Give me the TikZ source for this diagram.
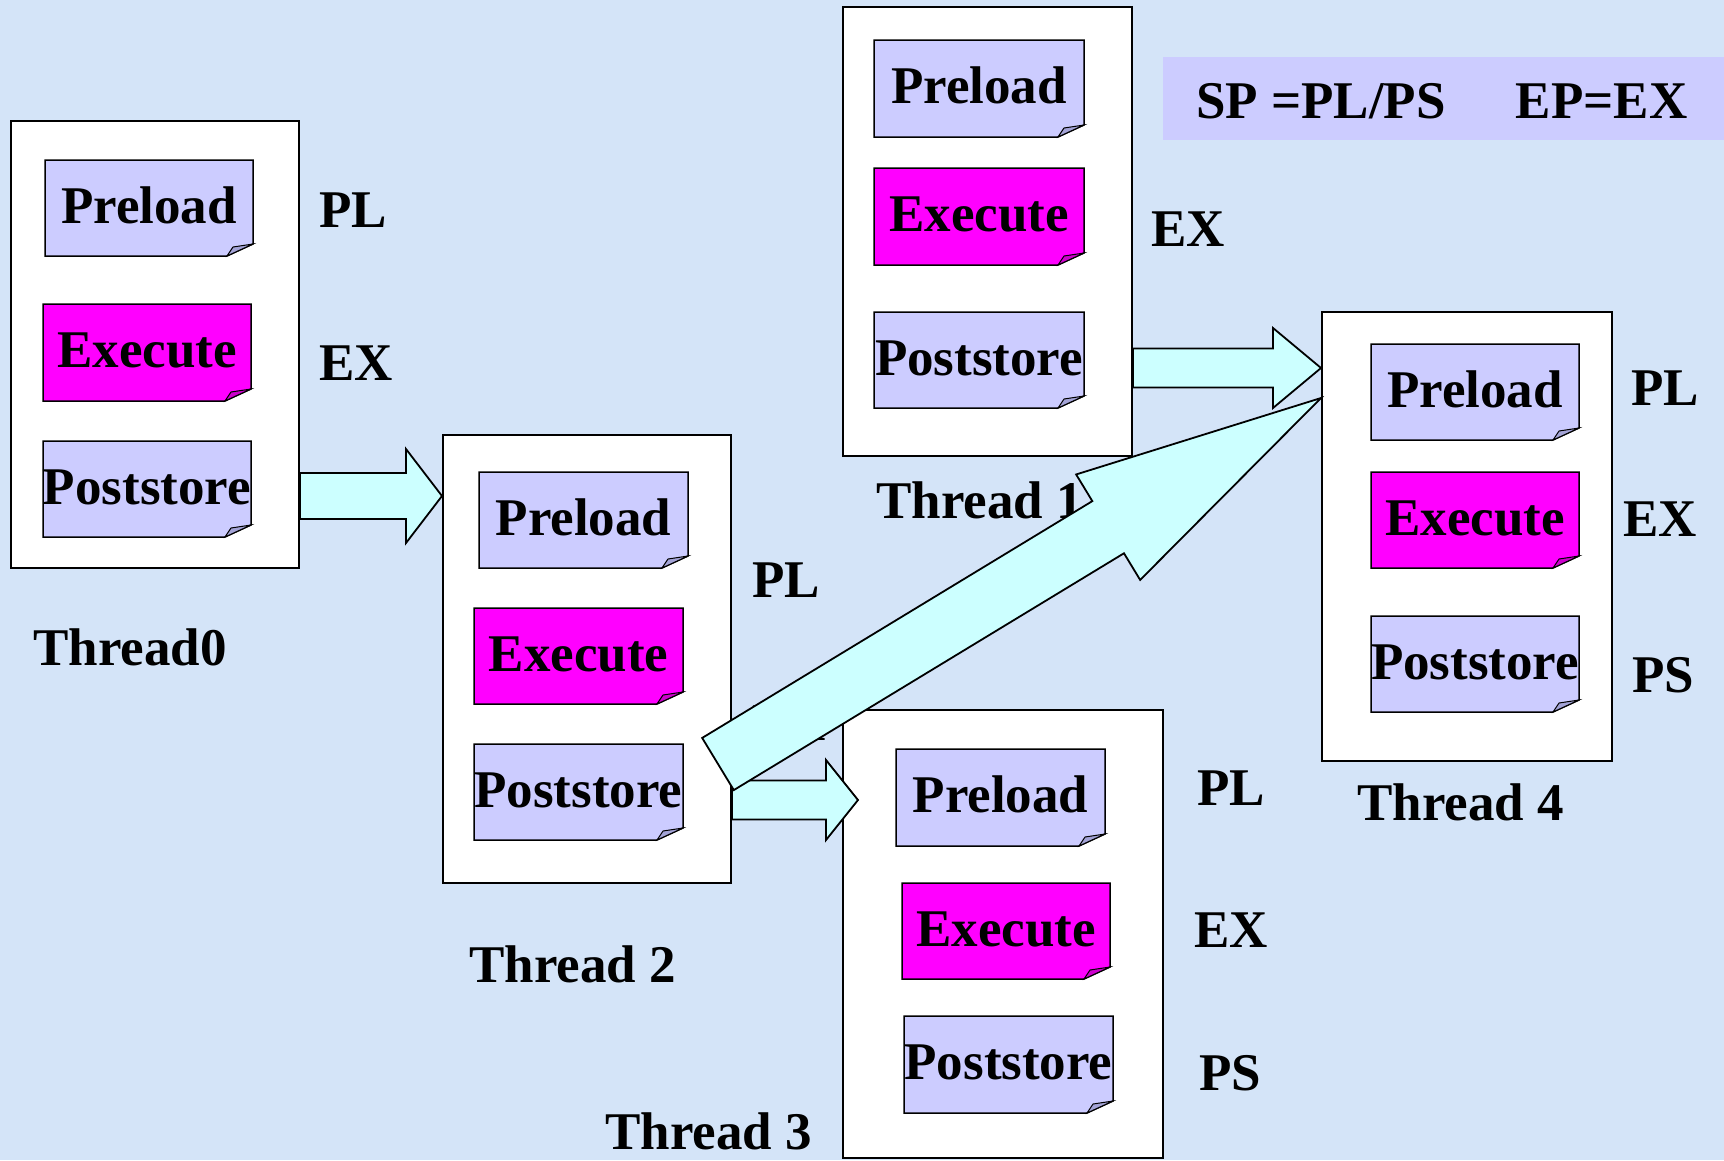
\documentclass[tikz,border=0pt]{standalone}
\usepackage{fontspec}
\setmainfont{Liberation Serif}
\usetikzlibrary{calc}
\definecolor{bgblue}{RGB}{212,228,248}
\definecolor{lav}{RGB}{204,204,255}
\definecolor{lavfold}{RGB}{163,163,214}
\definecolor{mag}{RGB}{255,0,255}
\definecolor{magfold}{RGB}{204,0,204}
\definecolor{arrcyan}{RGB}{204,255,255}
\newcommand\lblfont{\fontsize{53}{60}\selectfont\bfseries}
\tikzset{
  threadbox/.style={draw=black, fill=white, line width=2pt, inner sep=0pt},
  notetext/.style={inner sep=0pt, text height=30pt, text depth=0pt, font=\lblfont},
  lbl/.style={anchor=base west, inner sep=0pt, font=\lblfont},
  blockarr/.style={draw=black, fill=arrcyan, line width=1.8pt, line join=miter},
  legendbox/.style={fill=lav, draw=none, inner sep=0pt}
}
% name, x1, y1, x2, y2
\newcommand\threadbox[5]{%
  \node[threadbox, minimum width={#4-#2}, minimum height={#5-#3}] (#1) at ({(#2+#4)/2},{(#3+#5)/2}) {};}
% name, x1, y1, x2, y2, fill, fold, text
\newcommand\notebox[8]{%
  \path[fill=#6, draw=black, line width=1.5pt, line join=miter]
    (#2,#3) -- (#4,#3) -- (#4,#5-12) -- (#4-26,#5) -- (#2,#5) -- cycle;
  \path[fill=#7, draw=black, line width=1pt]
    (#4,#5-12) -- (#4-26,#5) -- (#4-20,#5-9) -- cycle;
  \node[notetext, minimum width={#4-#2}, minimum height={#5-#3}] (#1) at ({(#2+#4)/2},{(#3+#5)/2}) {#8};}
% start, end, shaft half width, head half width, head length
\newcommand\blockarrow[5]{%
  \coordinate (ba-h) at ($(#2)!#5pt!(#1)$);
  \path[blockarr]
    ($(#1)!#3pt!90:(#2)$) -- ($(ba-h)!#3pt!90:(#2)$) -- ($(ba-h)!#4pt!90:(#2)$) --
    (#2) --
    ($(ba-h)!#4pt!-90:(#2)$) -- ($(ba-h)!#3pt!-90:(#2)$) -- ($(#1)!#3pt!-90:(#2)$) -- cycle;}
\begin{document}
\begin{tikzpicture}[x=1pt,y=-1pt]
\useasboundingbox (0,0) rectangle (1724,1160);
\fill[bgblue] (0,0) rectangle (1724,1160);

% Thread 0
\threadbox{t0}{11}{121}{299}{568}
\notebox{p0}{45}{160}{253}{256}{lav}{lavfold}{Preload}
\notebox{e0}{43}{304}{251}{401}{mag}{magfold}{Execute}
\notebox{s0}{43}{441}{251}{537}{lav}{lavfold}{Poststore}
\node[lbl] (pl0) at (319,227) {PL};
\node[lbl] (ex0) at (319,380) {EX};
\node[lbl] (th0) at (33,665) {Thread0};

% Thread 1
\threadbox{t1}{843}{7}{1132}{456}
\notebox{p1}{874}{40}{1084}{137}{lav}{lavfold}{Preload}
\notebox{e1}{874}{168}{1084}{265}{mag}{magfold}{Execute}
\notebox{s1}{874}{312}{1084}{408}{lav}{lavfold}{Poststore}
\node[lbl] (ex1) at (1151,246) {EX};
\node[lbl] (th1) at (876,518) {Thread 1};

% Thread 2
\threadbox{t2}{443}{435}{731}{883}
\notebox{p2}{479}{472}{688}{568}{lav}{lavfold}{Preload}
\notebox{e2}{474}{608}{683}{704}{mag}{magfold}{Execute}
\notebox{s2}{474}{744}{683}{840}{lav}{lavfold}{Poststore}
\node[lbl] (pl2) at (752,597) {PL};
\node[lbl] (ex2) at (752,740) {EX};
\node[lbl] (th2) at (469,982) {Thread 2};

% Thread 4
\threadbox{t4}{1322}{312}{1612}{761}
\notebox{p4}{1371}{344}{1579}{440}{lav}{lavfold}{Preload}
\notebox{e4}{1371}{472}{1579}{568}{mag}{magfold}{Execute}
\notebox{s4}{1371}{616}{1579}{712}{lav}{lavfold}{Poststore}
\node[lbl] (pl4) at (1631,405) {PL};
\node[lbl] (ex4) at (1623,536) {EX};
\node[lbl] (ps4) at (1632,692) {PS};
\node[lbl] (th4) at (1357,820) {Thread 4};

% Thread 3
\threadbox{t3}{843}{710}{1163}{1158}
\notebox{p3}{896}{749}{1105}{846}{lav}{lavfold}{Preload}
\notebox{e3}{902}{883}{1110}{979}{mag}{magfold}{Execute}
\notebox{s3}{904}{1016}{1113}{1113}{lav}{lavfold}{Poststore}
\node[lbl] (pl3) at (1197,805) {PL};
\node[lbl] (ex3) at (1194,947) {EX};
\node[lbl] (ps3) at (1199,1090) {PS};
\node[lbl] (th3) at (605,1149) {Thread 3};

% arrows
\coordinate (a0s) at (t0.east |- 0,496);
\coordinate (a0e) at (t2.west |- 0,496);
\blockarrow{a0s}{a0e}{23}{47}{36}
\coordinate (a1s) at (t1.east |- 0,368);
\coordinate (a1e) at (t4.west |- 0,368);
\blockarrow{a1s}{a1e}{19.5}{40}{48}
\coordinate (a2s) at (t2.east |- 0,800);
\coordinate (a2e) at ([xshift=16pt]t3.west |- 0,800);
\blockarrow{a2s}{a2e}{19.5}{40}{32}
\coordinate (bgs) at (718,764);
\coordinate (bge) at (t4.west |- 0,398);
\blockarrow{bgs}{bge}{30.5}{61.7}{249}

% legend
\node[legendbox, minimum width=561, minimum height=83] (leg) at (1443.5,98.5) {};
\node[lbl] (legtext) at (1196,118) {SP =PL/PS\hspace{70pt}EP=EX};
\end{tikzpicture}
\end{document}
